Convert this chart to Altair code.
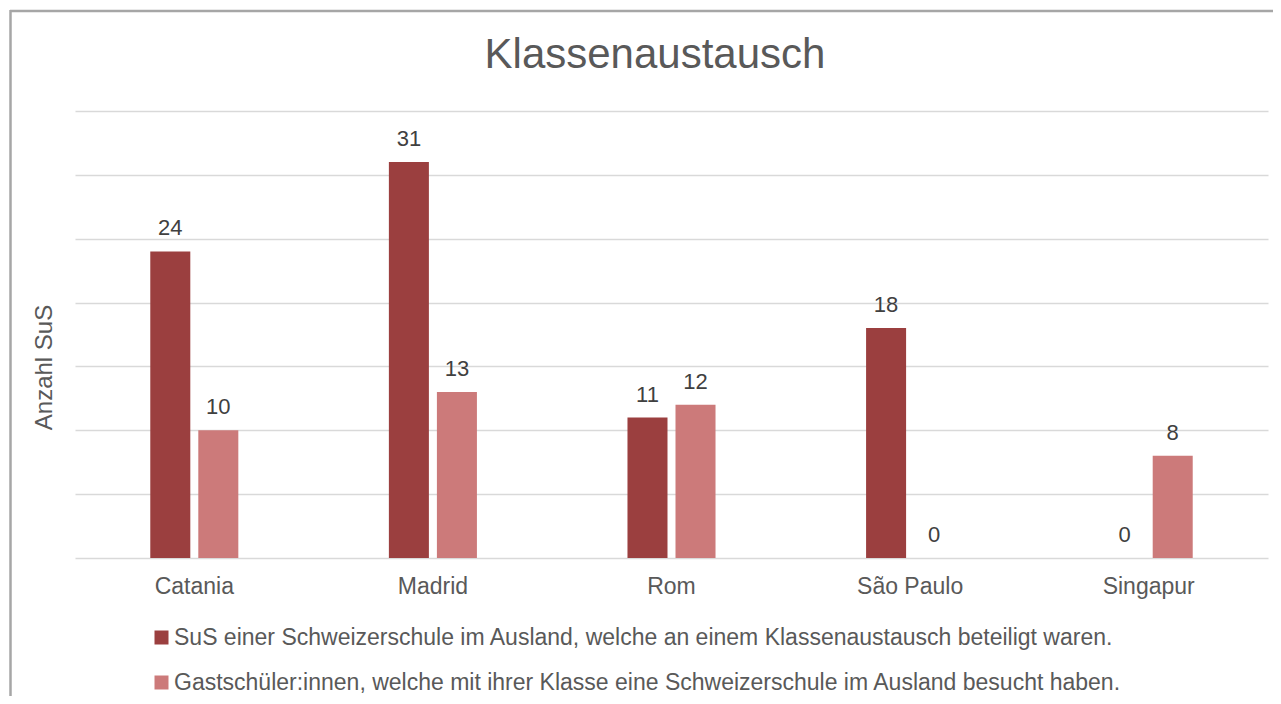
import altair as alt
import pandas as pd

title_text = "Klassenaustausch"
y_title = "Anzahl SuS"
cities = ["Catania", "Madrid", "Rom", "São Paulo", "Singapur"]
series = [
    "SuS einer Schweizerschule im Ausland, welche an einem Klassenaustausch beteiligt waren.",
    "Gastschüler:innen, welche mit ihrer Klasse eine Schweizerschule im Ausland besucht haben.",
]
sus_values = [24, 31, 11, 18, 0]
gast_values = [10, 13, 12, 0, 8]
colors = ["#9B3F3F", "#CC7A7A"]
grid_values = [0, 5, 10, 15, 20, 25, 30, 35]

rows = []
for c, a, b in zip(cities, sus_values, gast_values):
    rows.append({"Stadt": c, "Gruppe": series[0], "Anzahl": a})
    rows.append({"Stadt": c, "Gruppe": series[1], "Anzahl": b})
df = pd.DataFrame(rows)

FONT = "Liberation Sans"
W, H = 1193, 447
PAD = {"left": 67, "top": 103, "right": 5, "bottom": 138}

base = alt.Chart(df).encode(
    x=alt.X(
        "Stadt:N",
        sort=cities,
        scale=alt.Scale(paddingInner=0.631, paddingOuter=0.3155),
        axis=alt.Axis(
            title=None, labelFontSize=23, labelColor="#595959", labelFont=FONT,
            labelPadding=17, domain=False, ticks=False, labelAngle=0, grid=False,
        ),
    ),
    xOffset=alt.XOffset(
        "Gruppe:N", sort=series, scale=alt.Scale(paddingInner=0.1667, paddingOuter=0)
    ),
    y=alt.Y(
        "Anzahl:Q",
        scale=alt.Scale(domain=[0, 35], nice=False),
        axis=alt.Axis(
            values=grid_values, labels=False, ticks=False, domain=False,
            title=y_title, titleFontSize=24, titleColor="#595959",
            titleFont=FONT, titleFontWeight="normal", titleAngle=270,
            titleX=-31, titleY=256, titleAlign="center", titleBaseline="middle",
            gridColor="#d9d9d9", gridWidth=1.5,
        ),
    ),
)

bars = base.mark_bar().encode(
    color=alt.Color(
        "Gruppe:N",
        sort=series,
        scale=alt.Scale(domain=series, range=colors),
        legend=alt.Legend(
            title=None, orient="none", legendX=75, legendY=515, direction="vertical",
            symbolType="square", symbolSize=196, symbolStrokeWidth=0,
            labelFontSize=23, labelColor="#595959", labelFont=FONT, labelLimit=0,
            labelOffset=1, rowPadding=21, padding=0,
        ),
    )
)

labels = base.mark_text(
    dy=-16, baseline="alphabetic", fontSize=22, color="#404040", font=FONT
).encode(text="Anzahl:Q")

one = pd.DataFrame({"k": [0]})
title_mark = alt.Chart(one).mark_text(
    fontSize=42, color="#595959", font=FONT, align="center", baseline="alphabetic"
).encode(x=alt.value(580), y=alt.value(-43), text=alt.value(title_text))

top_line = alt.Chart(one).mark_rule(color="#a6a6a6", strokeWidth=2.5).encode(
    x=alt.value(-65), x2=alt.value(1210), y=alt.value(-100)
)
left_line = alt.Chart(one).mark_rule(color="#a6a6a6", strokeWidth=2.5).encode(
    x=alt.value(-64.5), y=alt.value(-101), y2=alt.value(600)
)

chart = (
    alt.layer(top_line, left_line, title_mark, bars, labels)
    .properties(
        width=W,
        height=H,
        autosize=alt.AutoSizeParams(type="none"),
        padding=PAD,
        background="white",
    )
    .configure_view(stroke=None)
)

chart.save("out.html", embed_options={"renderer": "svg", "actions": False})
